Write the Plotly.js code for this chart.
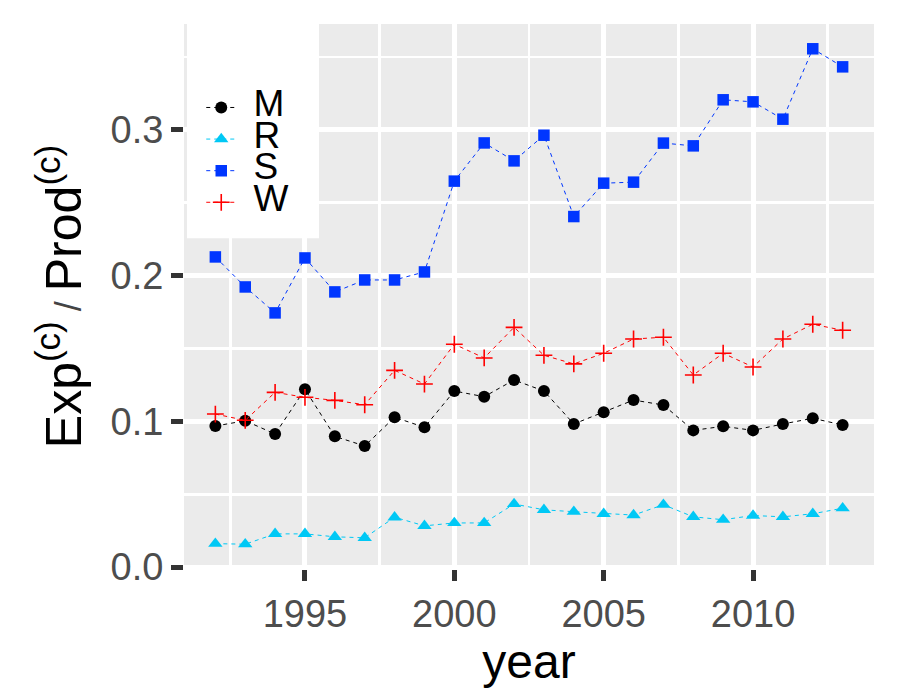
<!DOCTYPE html>
<html>
<head>
<meta charset="utf-8">
<script src="https://cdn.plot.ly/plotly-3.0.1.min.js"></script>
<style>
  html, body { margin: 0; padding: 0; background: #ffffff; }
  #chart { width: 900px; height: 700px; }
</style>
</head>
<body>
<div id="chart"></div>
<script>
// Export / production ratio by year for four groups
const years = [1992, 1993, 1994, 1995, 1996, 1997, 1998, 1999, 2000, 2001, 2002,
               2003, 2004, 2005, 2006, 2007, 2008, 2009, 2010, 2011, 2012, 2013];

const seriesM = [0.0968, 0.1004, 0.0913, 0.1220, 0.0897, 0.0831, 0.1028, 0.0959, 0.1208, 0.1169, 0.1284,
                 0.1208, 0.0982, 0.1062, 0.1146, 0.1112, 0.0938, 0.0966, 0.0938, 0.0982, 0.1021, 0.0975];
const seriesR = [0.0161, 0.0157, 0.0228, 0.0228, 0.0208, 0.0201, 0.0342, 0.0283, 0.0303, 0.0303, 0.0433,
                 0.0393, 0.0380, 0.0366, 0.0357, 0.0428, 0.0345, 0.0325, 0.0354, 0.0345, 0.0366, 0.0404];
const seriesS = [0.2128, 0.1922, 0.1744, 0.2121, 0.1888, 0.1970, 0.1970, 0.2025, 0.2648, 0.2910, 0.2787,
                 0.2963, 0.2405, 0.2634, 0.2641, 0.2909, 0.2890, 0.3206, 0.3192, 0.3073, 0.3556, 0.3432];
const seriesW = [0.1050, 0.1007, 0.1199, 0.1165, 0.1144, 0.1114, 0.1350, 0.1256, 0.1529, 0.1435, 0.1645,
                 0.1453, 0.1394, 0.1467, 0.1565, 0.1577, 0.1318, 0.1467, 0.1373, 0.1565, 0.1666, 0.1625];

const groupNames = ['M', 'R', 'S', 'W'];
const yTickVals = [0, 0.1, 0.2, 0.3];
const yTickText = ['0.0', '0.1', '0.2', '0.3'];
const xTickVals = [1995, 2000, 2005, 2010];

const FONT = 'Liberation Sans, Arial, sans-serif';
const NB = '\u00A0';

function makeTrace(name, values, color, symbol, size) {
  const marker = { color: color, symbol: symbol, size: size };
  if (symbol === 'cross-thin') {
    marker.line = { color: color, width: 1.6 };
  }
  return {
    type: 'scatter',
    mode: 'lines+markers',
    x: years,
    y: values,
    name: NB + NB + '<span style="font-size:37px">' + name + '</span>',
    line: { color: color, width: 1, dash: '4px,4px' },
    marker: marker,
    hoverinfo: 'x+y'
  };
}

const traces = [
  makeTrace(groupNames[0], seriesM, '#000000', 'circle', 12),
  makeTrace(groupNames[1], seriesR, '#00C8F5', 'triangle-up', 12.5),
  makeTrace(groupNames[2], seriesS, '#0036FF', 'square', 11.5),
  makeTrace(groupNames[3], seriesW, '#FF0000', 'cross-thin', 12)
];

const layout = {
  width: 900,
  height: 700,
  margin: { l: 184, r: 26, t: 24, b: 131 },
  paper_bgcolor: '#ffffff',
  plot_bgcolor: '#EBEBEB',
  font: { family: FONT, color: '#000000' },
  showlegend: true,
  legend: {
    x: 0.025, y: 0.885, xanchor: 'left', yanchor: 'top',
    bgcolor: 'rgba(0,0,0,0)',
    font: { family: FONT, size: 22, color: '#000000' },
    tracegroupgap: 0,
    itemsizing: 'trace'
  },
  shapes: [{
    type: 'rect', xref: 'paper', yref: 'paper',
    x0: 0.0043, x1: 0.1957, y0: 0.607, y1: 1.0,
    fillcolor: '#ffffff', line: { width: 0 }, layer: 'above'
  }],
  xaxis: {
    range: [1990.95, 2014.05],
    tickmode: 'array',
    tickvals: xTickVals,
    ticks: 'outside', ticklen: 11, tickwidth: 5, tickcolor: '#333333',
    tickfont: { family: FONT, size: 38, color: '#4D4D4D' },
    showgrid: true, gridcolor: '#ffffff', gridwidth: 5,
    minor: { tickmode: 'linear', tick0: 1992.5, dtick: 5, showgrid: true, gridcolor: '#ffffff', gridwidth: 2.7, ticks: '' },
    zeroline: false, showline: false,
    title: { text: 'year', font: { family: FONT, size: 48, color: '#000000' }, standoff: 3 }
  },
  yaxis: {
    range: [-0.0013, 0.3726],
    tickmode: 'array',
    tickvals: yTickVals,
    ticktext: yTickText,
    ticks: 'outside', ticklen: 12, tickwidth: 5, tickcolor: '#333333',
    tickfont: { family: FONT, size: 38, color: '#4D4D4D' },
    showgrid: true, gridcolor: '#ffffff', gridwidth: 5,
    minor: { tickmode: 'linear', tick0: 0.05, dtick: 0.1, showgrid: true, gridcolor: '#ffffff', gridwidth: 2.7, ticks: '' },
    zeroline: false, showline: false,
    title: {
      text: 'Exp<sup>(c)</sup><span style="font-size:36px;fill:#444444"> / </span>Prod<sup>(c)</sup>',
      font: { family: FONT, size: 50, color: '#000000' },
      standoff: 13
    }
  }
};

Plotly.newPlot('chart', traces, layout, { displayModeBar: false, staticPlot: true });
</script>
</body>
</html>
